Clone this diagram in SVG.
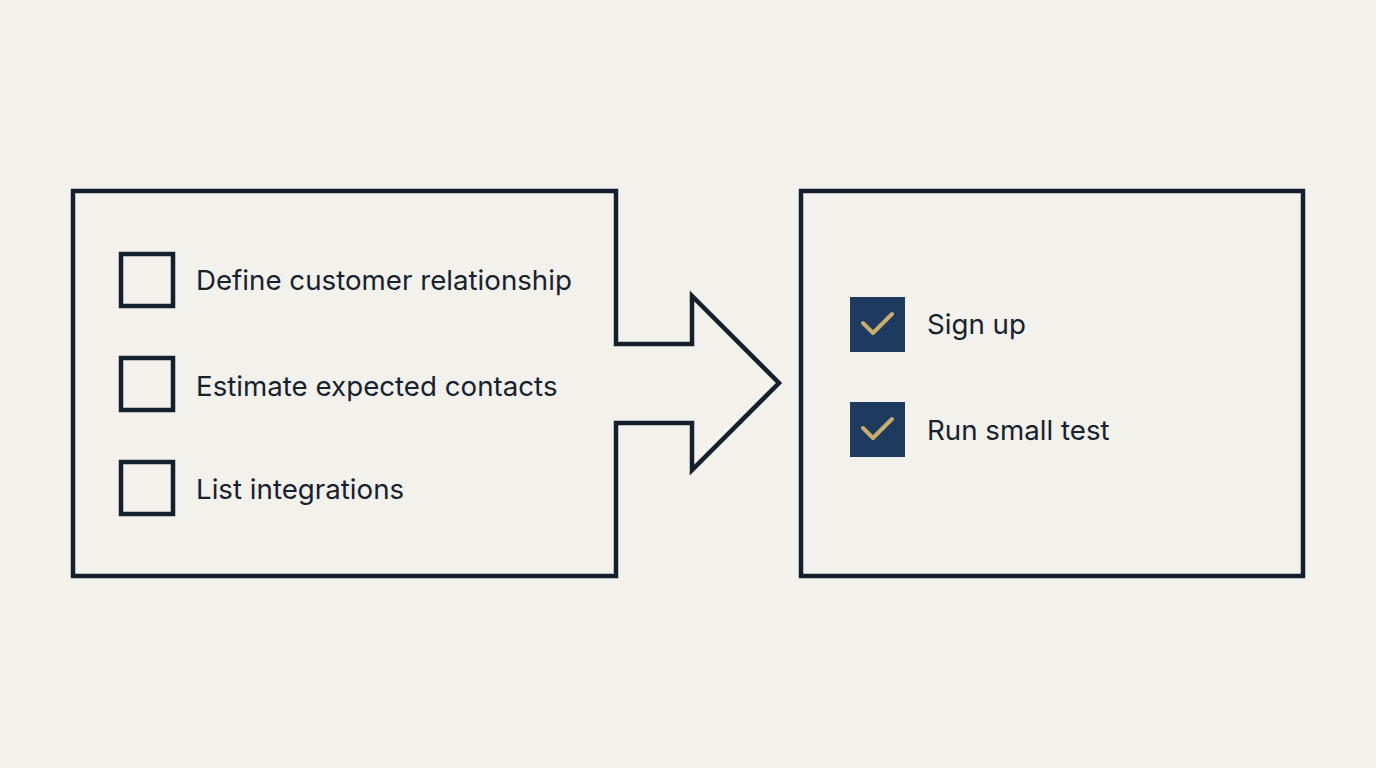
<svg xmlns="http://www.w3.org/2000/svg" width="1376" height="768" viewBox="0 0 1376 768">
<style>
.outline{fill:none;stroke:#14202d;stroke-width:4.5;stroke-linejoin:miter}
.box{fill:none;stroke:#14202d;stroke-width:4.5}
.done{fill:#1e3a5f}
.tick{fill:none;stroke:#c9ad6e;stroke-width:4;stroke-linecap:round;stroke-linejoin:round}
.lbl{font-family:Inter,"Liberation Sans",sans-serif;font-size:27.7px;fill:#18222e}
</style>
<rect width="1376" height="768" fill="#f3f1eb"/>
<g id="todo-panel">
<path class="outline" d="M73,191 H616 V344 H692 V296 L779,383 L692,470 V423 H616 V576 H73 Z"/>
</g>
<g id="connectors"></g>
<g id="item-define">
<rect class="box" x="121" y="254" width="52" height="52"/>
<text class="lbl" x="196" y="290">Define customer relationship</text>
</g>
<g id="item-estimate">
<rect class="box" x="121" y="358" width="52" height="52"/>
<text class="lbl" x="196" y="396">Estimate expected contacts</text>
</g>
<g id="item-list">
<rect class="box" x="121" y="462" width="52" height="52"/>
<text class="lbl" x="196" y="499">List integrations</text>
</g>
<g id="done-panel">
<rect class="box" x="801" y="191" width="502" height="385"/>
</g>
<g id="item-signup">
<rect class="done" x="850" y="297" width="55" height="55"/>
<path class="tick" d="M863,323 L873,333 L892,314"/>
<text class="lbl" x="927" y="334">Sign up</text>
</g>
<g id="item-test">
<rect class="done" x="850" y="402" width="55" height="55"/>
<path class="tick" d="M863,428 L873,438 L892,419"/>
<text class="lbl" x="927" y="440">Run small test</text>
</g>
</svg>
